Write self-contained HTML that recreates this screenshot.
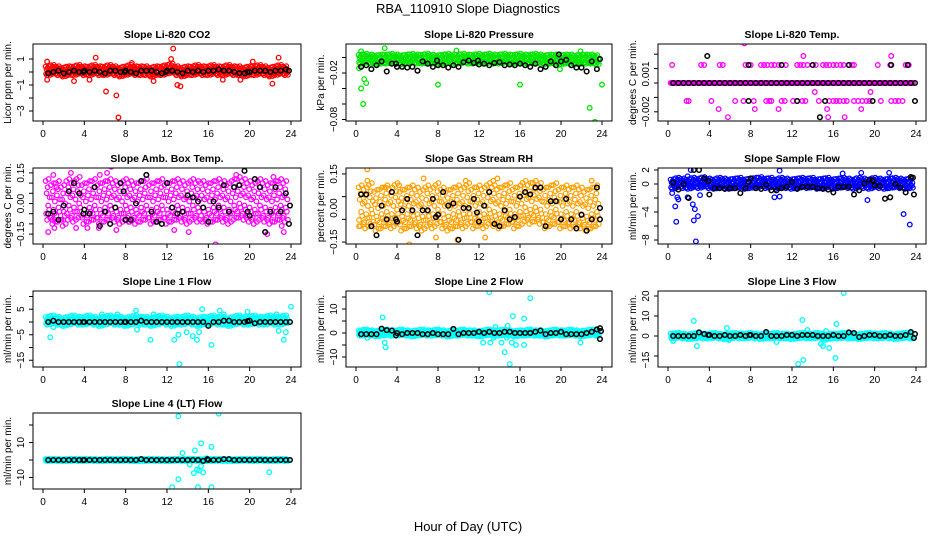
<!DOCTYPE html>
<html><head><meta charset="utf-8"><style>
html,body{margin:0;padding:0;background:#fff}
svg{display:block;font-family:"Liberation Sans",sans-serif}
</style></head><body>
<svg id="chart" width="936" height="540" viewBox="0 0 936 540">
<rect width="936" height="540" fill="#fff"/>
<text x="468" y="13" text-anchor="middle" font-size="13">RBA_110910  Slope Diagnostics</text>
<text x="468" y="531" text-anchor="middle" font-size="13">Hour of Day (UTC)</text>
</svg>
<script>
// ---- data ----
const blackHours = [0.5,1,1.5,2,2.5,3,3.5,4,4.5,5,5.5,6,6.5,7,7.5,8,8.5,9,9.5,10,10.5,11,11.5,12,12.5,13,13.5,14,14.5,15,15.5,16,16.5,17,17.5,18,18.5,19,19.5,20,20.5,21,21.5,22,22.5,23,23.5];
const xTicks = [0,4,8,12,16,20,24];

const p1Core = [0.1,0.2,0.1,0,0.1,0.1,0.2,0.1,0.1,0.2,0.1,0.1,0.2,0.1,0,0.1,0.2,0.1,0.1,0.1,0,0.1,0.1,0.2,0.3,0.1,0,0.1,0.1,0.2,0.1,0.1,0.2,0.1,0.1,0.2,0.1,0.1,0,0.1,0.1,0.2,0.1,0,0.1,0.2,0.1];
const p1Black = [-0.1,0,0.1,-0.1,0,0.1,0,0.1,0,0.1,0,-0.1,0.1,0.1,0,0.1,0,-0.1,0.1,0.1,0.1,0,-0.1,0.1,0.1,0,-0.1,0.1,0,0.1,0,0.1,0.1,0.2,0.1,0.1,0,-0.1,-0.1,0,0.1,0.1,0.1,0,0.1,0.1,0.2];
const p1Out = [[0.4,0.8],[0.4,-0.6],[5.1,1.1],[6.1,-1.5],[7.1,-1.8],[7.3,-3.5],[12.6,1.8],[12.4,1],[13,-1],[13.3,-1.1],[3,-0.7],[22.2,-0.9],[22.8,1.1],[17.4,-0.6],[10.7,-0.7],[8.6,0.7],[19.1,-0.6],[4.5,-0.6],[20.3,0.8]];
const p1BlackOut = [[3.9,0],[7.9,0],[11.9,0],[19.8,0],[23.8,0.1]];

const p2Core = [-0.002,-0.001,-0.002,-0.003,-0.002,-0.002,-0.001,-0.002,-0.003,-0.002,-0.001,-0.002,-0.002,-0.001,-0.002,-0.003,-0.002,-0.001,-0.002,-0.002,-0.001,-0.002,-0.002,-0.001,-0.002,-0.001,-0.002,-0.002,-0.001,-0.002,-0.002,-0.001,-0.002,-0.002,-0.001,-0.002,-0.003,-0.002,-0.002,-0.003,-0.002,-0.002,-0.003,-0.002,-0.002,-0.002,-0.003];
const p2Black = [-0.012,-0.01,-0.015,-0.01,-0.005,-0.018,-0.008,-0.012,-0.012,-0.013,-0.012,-0.017,-0.005,-0.008,-0.012,-0.01,-0.01,-0.013,-0.01,-0.012,-0.006,-0.004,-0.007,-0.009,-0.008,-0.01,-0.007,-0.006,-0.01,-0.009,-0.01,-0.008,-0.01,-0.012,-0.008,-0.015,-0.012,-0.005,-0.01,-0.005,-0.003,-0.01,-0.013,-0.013,-0.018,-0.005,-0.015];
const p2Out = [[0.5,-0.04],[0.7,-0.06],[0.8,-0.028],[1,-0.033],[0.3,-0.014],[8,-0.035],[16,-0.035],[22.8,-0.065],[23.3,-0.083],[24,-0.035],[2.8,0.012],[19.9,-0.015],[0.5,0.008],[9.8,0.009],[21.9,0.008]];
const p2BlackOut = [[3.9,-0.008],[7.9,-0.004],[11.9,-0.004],[19.8,0.004],[23.8,-0.002]];

const p3Core = [0,0,0,0,0,0,0,0,0,0,0,0,0,0,0,0,0,0,0,0,0,0,0,0,0,0,0,0,0,0,0,0,0,0,0,0,0,0,0,0,0,0,0,0,0,0,0];
const p3Black = [0,0,0,0,0,0,0,0,0,0,0,0,0,0,0,0,0,0,0,0,0,0,0,0,0,0,0,0,0,0,0,0,0,0,0,0,0,0,0,0,0,0,0,0,0,0,0];
const p3Out = [[0.4,0.001],[3.2,0.001],[3.5,0.001],[5,0.001],[5.3,0.001],[7.5,0.001],[7.8,0.001],[8,0.001],[9,0.001],[9.3,0.001],[9.6,0.001],[10,0.001],[10.3,0.001],[10.7,0.001],[11,0.001],[11.4,0.001],[12.5,0.001],[12.8,0.001],[13.1,0.001],[13.5,0.001],[14,0.001],[14.3,0.001],[15,0.001],[15.3,0.001],[15.6,0.001],[16,0.001],[16.3,0.001],[16.7,0.001],[17,0.001],[17.5,0.001],[17.8,0.001],[18,0.001],[20.3,0.001],[21.5,0.001],[23,0.001],[23.3,0.001],
[1.8,-0.001],[2,-0.001],[4.2,-0.001],[6.5,-0.001],[7.3,-0.001],[8.3,-0.001],[9.5,-0.001],[9.8,-0.001],[10,-0.001],[11,-0.001],[11.3,-0.001],[12.1,-0.001],[12.5,-0.001],[13,-0.001],[13.3,-0.001],[14.6,-0.001],[15.6,-0.001],[16,-0.001],[16.3,-0.001],[16.6,-0.001],[17,-0.001],[17.3,-0.001],[18,-0.001],[18.4,-0.001],[18.8,-0.001],[19.2,-0.001],[19.5,-0.001],[20.6,-0.001],[21.6,-0.001],[22,-0.001],[22.3,-0.001],[22.7,-0.001],
[7.4,0.0022],[13.1,0.0015],[21.6,0.0015],[4.9,-0.00145],[5.8,-0.0019],[8.4,-0.00145],[10.7,-0.00145],[15.4,-0.00145],[15.5,-0.0019],[17.1,-0.0019],[18.7,-0.00145],[14.2,-0.0005],[19.6,-0.0005]];
const p3BlackOut = [[3.8,0.0015],[7.8,0.001],[11,0.001],[14,0.001],[17.5,0.001],[21.6,0.001],[23.2,0.001],[7.8,-0.001],[12.5,-0.001],[15.2,-0.001],[19.8,-0.001],[23.9,-0.001],[14.7,-0.0019],[23.9,0]];

const p4Core = [0.02,0,0.01,-0.01,0.02,0.01,0.03,0,0.01,0.02,0,0.01,0.02,0.01,0,0.02,0.01,0,0.01,0.02,0,0.01,0.02,0,0.01,0.02,0.01,0,0.02,0.01,0.01,0,0.01,0.02,0.01,0,0.02,0.03,0.02,0.01,0,0.02,0.01,0,0.01,0.02,0.01];
const p4Black = [-0.05,-0.04,-0.08,-0.01,0.06,0.1,0.05,-0.03,-0.05,0.08,-0.11,-0.04,-0.1,-0.02,0.1,-0.08,-0.08,0,0.11,0.14,-0.04,-0.09,-0.1,0.1,-0.02,-0.05,-0.04,0.04,0.03,0.01,-0.02,-0.09,0.01,-0.02,0.09,-0.04,0.08,0.09,0.16,-0.06,0.12,0.08,-0.14,-0.04,0.08,-0.04,0.05];
const p4Out = [[0.5,-0.14],[1.1,-0.12],[1,0.14],[2.7,0.15],[3.2,-0.12],[4.3,-0.12],[5.4,-0.12],[5.5,0.14],[6.2,0.15],[6.6,0.18],[7.1,-0.13],[8.3,-0.09],[12.7,-0.13],[14.1,-0.14],[16.7,-0.2],[21.7,-0.15],[22.3,0.13],[22.9,0.21],[23.1,-0.11],[23.3,-0.14],[18.7,0.14],[1.3,0.08],[0.9,-0.08]];
const p4BlackOut = [[23.9,-0.01],[23.8,-0.1],[3.9,-0.05],[7.8,0.06],[19.8,-0.04]];

const p5Core = [0.01,0,0.02,-0.01,0,0.01,0,0.02,-0.01,0,0.01,0,-0.01,0.01,0,0.02,0,-0.01,0,0.01,0,0.02,0,0.01,0,0.02,0.01,0,0.01,0.02,0,0.01,0.03,0.02,0.03,0.02,0,0.01,0.02,0,0.01,0,0.01,0,-0.01,0,0.01];
const p5Black = [0.06,0.06,-0.08,-0.12,0.01,-0.05,0.07,-0.06,-0.01,0.04,-0.01,-0.12,-0.01,-0.01,0.04,-0.03,0.07,0.01,0.02,-0.14,0,0,0.04,-0.06,0.01,0.07,-0.07,-0.08,-0.01,-0.05,-0.04,0.05,0.07,0.06,0.09,0.09,-0.08,0.03,0.03,-0.05,0.04,-0.05,-0.09,-0.03,-0.1,-0.05,0.09];
const p5Out = [[1.1,0.17],[1.1,0.12],[5.2,-0.16],[6.6,0.13],[7.8,-0.13],[9.9,-0.14],[10.7,0.12],[12.6,-0.13],[13.8,0.13],[13.4,0.12],[18.4,-0.17],[23,0.12],[4.2,0.1],[2.9,0.09],[0.3,-0.08]];
const p5BlackOut = [[23.8,-0.05],[23.8,0],[3.9,-0.05],[7.8,-0.04],[11.8,-0.02]];

const p6Core = [0,0.2,0.1,0,0.2,0.1,0.3,0.1,0,0.2,0.1,0,0.1,0.2,0,0.1,0.2,0.3,0.1,0.2,0,0.2,0.1,0,0.1,0.2,0.1,0.2,0,0.1,0.2,0,0.1,0.2,0.1,0,0.2,0.1,0,0.2,0.1,0,0.1,0.2,0.1,0,0.1];
const p6Black = [0.2,-0.8,0,-2,2,2,0.8,-1.5,-0.6,-0.6,-0.7,-0.6,-0.6,-1.3,-0.6,0.8,-0.6,-0.7,-0.1,-0.9,-0.9,-0.6,-0.4,0.3,-0.7,-0.4,-0.4,-0.4,-0.6,-0.7,-0.8,-1.2,-0.4,-0.4,-0.4,-1.5,-0.9,0.1,0.6,-0.2,-0.3,-2.1,-1.9,0,-0.5,-1.2,1];
const p6Out = [[0.7,-3.2],[0.8,-5.4],[0.9,-1.9],[1,-2.2],[0.4,-1.3],[2.2,2],[2.4,-2.9],[2.6,-3.6],[2.5,-5.2],[2.9,-4.6],[2.7,-8.2],[3.1,-1.6],[10.3,-1.9],[10.8,-1.8],[19.3,-2.3],[22.8,-4.3],[23.4,-5.8],[10.8,1.9],[16.9,1.5],[18.7,1.6],[21.4,1.6],[1.9,1.1],[1.9,-1.9]];
const p6BlackOut = [[23.8,-1.5],[23.7,0.9],[3.9,0.4],[7.8,0.3],[19.8,0.5]];

const p7Core = [0.5,1,0.5,0,0.5,1,0.5,0.5,1,0.5,0,0.5,1,0.5,0.5,0,0.5,1,0.5,0.5,0,0.5,1,0.5,0,0.5,0.5,1,0.5,0,0.5,0.5,1,0.5,0.5,0,0.5,1,0.5,0.5,1,0.5,0.5,1,0.5,0.5,1];
const p7Black = [0,0.5,0,0,0,0,0,0,0,0,0,0,0,0,0,0,0,0,0.5,0,0,0,0,0,0,0,0,0,0,0,0,-1.5,0,0,0.5,0.5,0,0,0,0.5,-0.5,0,0,0,0,0,0];
const p7Out = [[0.7,-6],[5.7,3],[7.2,3],[9,4.5],[10.4,-7],[10.7,3],[12.7,-7],[13.1,13],[13.2,-16.5],[13.1,-5],[14.5,-5.5],[14.9,-7],[15.4,5],[16.3,-9],[17.1,4.5],[17.5,3],[19.8,4],[22.8,-3.5],[23.3,-7],[23.5,-4],[24,6],[22.6,3],[15.1,-4],[13.9,-4],[1,-2],[9.1,-3]];
const p7BlackOut = [[19.8,0.3],[23.9,0],[3.9,0],[7.9,0]];

const p8Core = [0,0.3,0,-0.3,0,0.3,0,0,0.3,0,-0.3,0,0.3,0,0,0.3,0,-0.3,0,0,0.3,0,0,-0.3,0,0.3,0,0,0.3,0,-0.3,0,0,0.3,0,0,-0.3,0,0.3,0,0,0.3,0,-0.3,0,0.3,0];
const p8Black = [-0.5,-0.5,-0.5,-0.5,1.8,1.2,1,0,-0.5,0,0,0,-0.5,-0.5,0,-0.5,-0.5,-0.5,1.7,-0.5,0,0,0,0.5,0,0.5,0,0,0.5,0.5,0,0,0,0,0.5,1,-0.5,0,0,0.5,-0.5,-0.5,-0.5,-0.5,0,0.5,1.5];
const p8Out = [[2.6,6.5],[2.8,-4],[2.9,-6],[12.4,-4],[13,17],[13.1,-4],[13.6,2.5],[14.2,-4],[14.5,-8],[14.8,3],[15,-13],[15.2,-4],[15.3,7],[15.6,-5],[16.4,6],[16.4,-5],[17,14.5],[21.9,-4],[23.8,-2.5],[1.1,-2],[13.4,-2],[14.7,-2]];
const p8BlackOut = [[23.8,2],[23.8,-2.5],[23.9,0.8],[3.9,-1]];

const p9Core = [0,0.3,0,-0.3,0,0.3,0,0,0.3,0,-0.3,0,0.3,0,0,0.3,0,-0.3,0,0,0.3,0,0,-0.3,0,0.3,0,0,0.3,0,-0.3,0,0,0.3,0,0,-0.3,0,0.3,0,0,0.3,0,-0.3,0,0.3,0];
const p9Black = [0,0,0,0,0,1.8,1,0.5,0,0,0.5,0,0,0.5,0,0.5,0,0,2,0,0,0,0.5,0.5,0,0.5,0.5,0.5,0,0,0,0.5,0,0,1.8,1.5,-0.5,0,0.5,0.5,0,0,0.5,0,0,0.5,2];
const p9Out = [[2.5,7.5],[2.8,-5],[5.7,4],[10.5,-3],[12.6,-14],[13,8],[13.1,-12],[13.5,3],[14.8,-4],[15,-5],[15.2,-2],[15.6,-6],[16.2,-11],[16.3,6],[17,21.5],[0.5,-2.5],[5.9,-2],[15.3,2.5]];
const p9BlackOut = [[23.8,-1],[23.9,1],[3.9,0.5],[7.9,0.5]];

const p10Core = [0,0.1,0,-0.1,0,0.1,0,0,0.1,0,-0.1,0,0.1,0,0,0.1,0,-0.1,0,0,0.1,0,0,-0.1,0,0.1,0,0,0.1,0,-0.1,0,0,0.1,0,0,-0.1,0,0.1,0,0,0.1,0,-0.1,0,0.1,0];
const p10Black = [0,0,0,0,0,0,0,0,0,0,0,0,0,0,0,0,0,0,0.5,0,0,0,0,0,0,0,0,0,0,0,-0.5,0,0,0,0.5,0.5,0,0,0,0,0,0,0,0,0,0,0];
const p10Out = [[12.5,-15.5],[13.1,25],[13.1,-11],[13.5,4],[14.2,-2.5],[14.6,-7.5],[14.7,5.5],[14.9,-5.5],[15,-15.5],[15.1,-6],[15.3,-3.5],[15.3,9.5],[15.5,-7],[16.3,7.5],[16.3,-15.5],[17,26.5],[21.9,-7],[15.8,1],[16.5,0.5]];
const p10BlackOut = [[23.9,0],[15.9,0.5],[3.9,0]];

// ---- layout (not data) ----
const cols = [[33,301],[346,612],[658,926]];
const rows = [[44,121],[168,244],[291,367],[413,489]];
const jitterH = [-0.25,-0.2,-0.15,-0.1,-0.05,0,0.05,0.1,0.15,0.2];
const jitterV = [0.9,-0.7,0.3,-1,0.6,-0.3,1,-0.5,0.1,-0.9];

const panels = [
 {title:'Slope Li-820 CO2',ylab:'Licor ppm per min.',c:0,r:0,y0:72,k:13,col:'#ff0000',spread:0.35,core:p1Core,black:p1Black,out:p1Out,bout:p1BlackOut,ticks:[1,0,-1,-2,-3],labs:[[1,'1'],[-1,'\u22121'],[-3,'\u22123']]},
 {title:'Slope Li-820 Pressure',ylab:'kPa per min.',c:1,r:0,y0:57.5,k:775,col:'#00e600',spread:0.006,core:p2Core,black:p2Black,out:p2Out,bout:p2BlackOut,ticks:[0,-0.02,-0.04,-0.06,-0.08],labs:[[-0.02,'\u22120.02'],[-0.08,'\u22120.08']]},
 {title:'Slope Li-820 Temp.',ylab:'degrees C per min.',c:2,r:0,y0:83,k:18000,col:'#ff00ff',spread:0,core:p3Core,black:p3Black,out:p3Out,bout:p3BlackOut,ticks:[0.0016,0.0008,0,-0.0008,-0.0016],labs:[[0.0005,'0.001'],[-0.0016,'\u22120.002']]},
 {title:'Slope Amb. Box Temp.',ylab:'degrees C per min.',c:0,r:1,y0:203.5,k:204,col:'#ff00ff',spread:0.1,core:p4Core,black:p4Black,out:p4Out,bout:p4BlackOut,ticks:[0.15,0.1,0.05,0,-0.05,-0.1,-0.15],labs:[[0.15,'0.15'],[0,'0.00'],[-0.15,'\u22120.15']]},
 {title:'Slope Gas Stream RH',ylab:'percent per min.',c:1,r:1,y0:208,k:227,col:'#ffa000',spread:0.09,core:p5Core,black:p5Black,out:p5Out,bout:p5BlackOut,ticks:[0.15,0.05,-0.05,-0.15],labs:[[0.15,'0.15'],[0,'0.00'],[-0.15,'\u22120.15']]},
 {title:'Slope Sample Flow',ylab:'ml/min per min.',c:2,r:1,y0:184,k:7,col:'#0000ff',spread:0.7,core:p6Core,black:p6Black,out:p6Out,bout:p6BlackOut,ticks:[2,0,-2,-4,-6,-8],labs:[[2,'2'],[0,'0'],[-4,'\u22124'],[-8,'\u22128']]},
 {title:'Slope Line 1 Flow',ylab:'ml/min per min.',c:0,r:2,y0:322,k:2.55,col:'#00ffff',spread:1.6,core:p7Core,black:p7Black,out:p7Out,bout:p7BlackOut,ticks:[10,5,0,-5,-10,-15],labs:[[5,'5'],[-5,'\u22125'],[-15,'\u221215']]},
 {title:'Slope Line 2 Flow',ylab:'ml/min per min.',c:1,r:2,y0:333,k:2.4,col:'#00ffff',spread:1.2,core:p8Core,black:p8Black,out:p8Out,bout:p8BlackOut,ticks:[15,10,5,0,-5,-10],labs:[[10,'10'],[0,'0'],[-10,'\u221210']]},
 {title:'Slope Line 3 Flow',ylab:'ml/min per min.',c:2,r:2,y0:336,k:2,col:'#00ffff',spread:1.3,core:p9Core,black:p9Black,out:p9Out,bout:p9BlackOut,ticks:[20,10,0,-10],labs:[[20,'20'],[10,'10'],[0,'0'],[-12,'\u221215']]},
 {title:'Slope Line 4 (LT) Flow',ylab:'ml/min per min.',c:0,r:3,y0:460,k:1.75,col:'#00ffff',spread:0.6,core:p10Core,black:p10Black,out:p10Out,bout:p10BlackOut,ticks:[20,10,0,-10],labs:[[10,'10'],[-10,'\u221210']]}
];

const NS='http://www.w3.org/2000/svg';
const svg=document.getElementById('chart');
function mk(tag,attrs,parent){const e=document.createElementNS(NS,tag);for(const k in attrs)e.setAttribute(k,attrs[k]);(parent||svg).appendChild(e);return e;}

panels.forEach((p,pi)=>{
  const [L,R]=cols[p.c],[T,B]=rows[p.r];
  const xs=h=>L+10+h*(R-L-20)/24;
  const ys=v=>p.y0-v*p.k;
  const g=mk('g',{});
  
  
  const t=mk('text',{x:(L+R)/2,y:T-6,'text-anchor':'middle','font-size':10.5,'font-weight':'bold'},g);
  t.textContent=p.title;
  
  
  const cp=mk('clipPath',{id:'cp'+pi},g);
  mk('rect',{x:L,y:T,width:R-L,height:B-T},cp);
  const pts=mk('g',{'clip-path':'url(#cp'+pi+')',fill:'none'},g);
  
  
  p.core.forEach((v,i)=>{
    jitterH.forEach((dh,j)=>{
      const c=mk('circle',{cx:xs(blackHours[i]+dh),cy:ys(v+jitterV[j]*p.spread),r:2.3,stroke:p.col,'stroke-width':1.2},pts);
      
      
    });
  });
  p.out.forEach(([h,v])=>{
    const c=mk('circle',{cx:xs(h),cy:ys(v),r:2.3,stroke:p.col,'stroke-width':1.3},pts);
    
    
  });
  p.black.forEach((v,i)=>{
    const c=mk('circle',{cx:xs(blackHours[i]),cy:ys(v),r:2.3,stroke:'#000','stroke-width':1.5},pts);
    
    
  });
  p.bout.forEach(([h,v])=>{
    const c=mk('circle',{cx:xs(h),cy:ys(v),r:2.3,stroke:'#000','stroke-width':1.5},pts);
    
    
  });
  const box=mk('rect',{x:L,y:T,width:R-L,height:B-T,fill:'none',stroke:'#000','stroke-width':1},g);
  
  
  xTicks.forEach(h=>{
    mk('line',{x1:xs(h),x2:xs(h),y1:B,y2:B+4,stroke:'#000'},g);
    const tl=mk('text',{x:xs(h),y:B+16,'text-anchor':'middle','font-size':10},g);
    tl.textContent=h;
    
    
  });
  p.ticks.forEach(v=>{mk('line',{x1:L-4,x2:L,y1:ys(v),y2:ys(v),stroke:'#000'},g);});
  p.labs.forEach(([v,s])=>{
    const tl=mk('text',{x:0,y:0,'text-anchor':'middle','font-size':10,transform:`translate(${L-9},${ys(v)}) rotate(-90)`},g);
    tl.textContent=s;
    
    
  });
  const yl=mk('text',{x:0,y:0,'text-anchor':'middle','font-size':10,transform:`translate(${L-22},${(T+B)/2}) rotate(-90)`},g);
  yl.textContent=p.ylab;
  
  
});
</script>
</body></html>
